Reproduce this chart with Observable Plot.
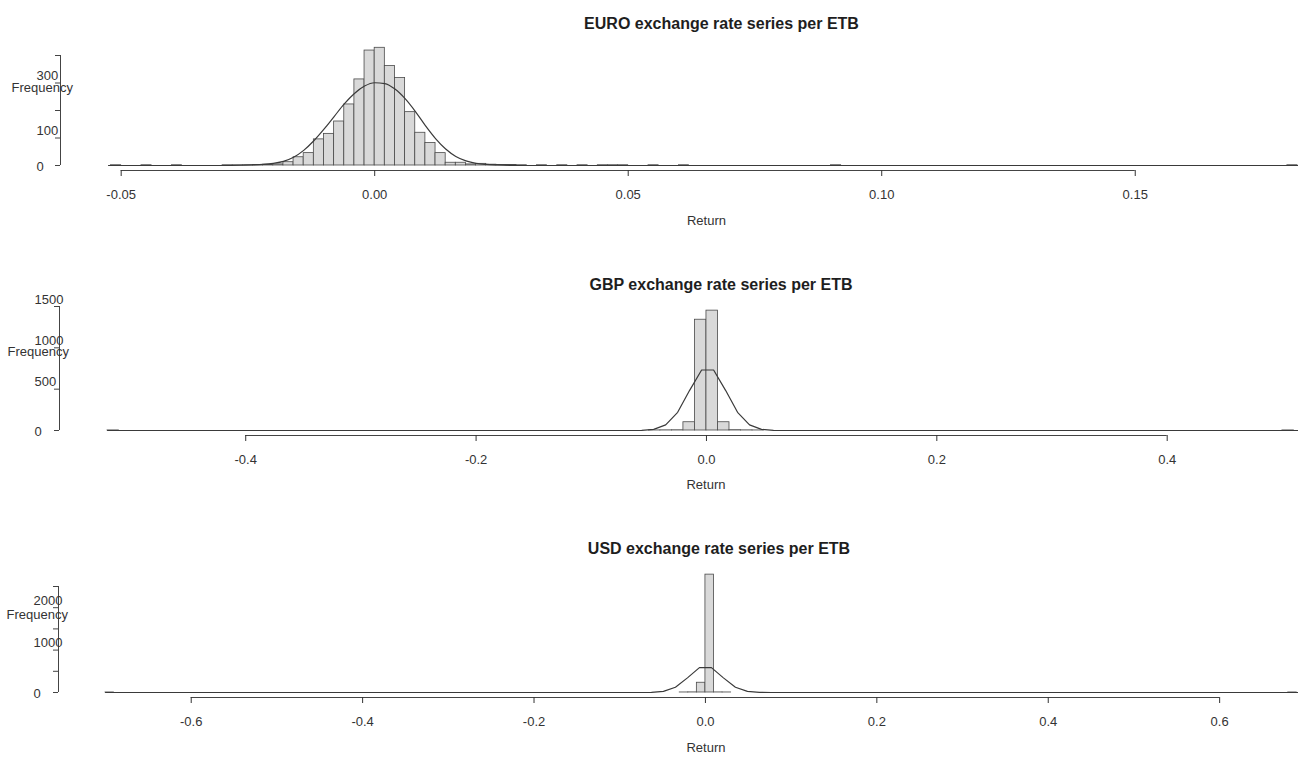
<!DOCTYPE html>
<html>
<head>
<meta charset="utf-8">
<script src="https://cdn.jsdelivr.net/npm/d3@7"></script>
<script src="https://cdn.jsdelivr.net/npm/@observablehq/plot@0.6"></script>
<style>
  html, body { margin: 0; padding: 0; background: #fff; overflow: hidden; }
  #chart > div { display: block; }
  #chart svg { display: block; }
</style>
</head>
<body>
<div id="chart"></div>
<script>
// ---------- EURO ----------
const euroTitle = "EURO exchange rate series per ETB";
const euroBinWidth = 0.002;
const euroBinLo = [-0.052, -0.046, -0.040, -0.030, -0.028, -0.026, -0.024, -0.022, -0.020, -0.018,
  -0.016, -0.014, -0.012, -0.010, -0.008, -0.006, -0.004, -0.002, 0.000, 0.002,
  0.004, 0.006, 0.008, 0.010, 0.012, 0.014, 0.016, 0.018, 0.020, 0.022,
  0.024, 0.026, 0.028, 0.032, 0.036, 0.040, 0.044, 0.046, 0.048, 0.054,
  0.060, 0.090, 0.180];
const euroCounts = [1, 1, 1, 1, 1, 1, 2, 3, 4, 12,
  30, 45, 95, 115, 160, 222, 313, 418, 428, 362,
  318, 194, 119, 82, 45, 10, 10, 4, 6, 3,
  2, 2, 1, 1, 1, 1, 1, 1, 1, 1,
  1, 1, 1];
const euroCurveX = [-0.0525, -0.030, -0.026, -0.024, -0.022, -0.020, -0.018, -0.016, -0.014, -0.012,
  -0.010, -0.008, -0.006, -0.004, -0.002, 0.000, 0.002, 0.004, 0.006, 0.008,
  0.010, 0.012, 0.014, 0.016, 0.018, 0.020, 0.022, 0.024, 0.028, 0.034, 0.1822];
const euroCurveY = [0, 0, 1, 2, 4, 8, 15, 30, 55, 90,
  132, 178, 224, 262, 289, 301, 298, 278, 243, 197,
  145, 98, 60, 33, 17, 8, 4, 2, 0, 0, 0];
const euroXTicks = [-0.05, 0.00, 0.05, 0.10, 0.15];
const euroYTicks = [0, 100, 200, 300, 400];
const euroYLabels = [0, 100, 300];

// ---------- GBP ----------
const gbpTitle = "GBP exchange rate series per ETB";
const gbpBinWidth = 0.01;
const gbpBinLo = [-0.52, -0.05, -0.04, -0.03, -0.02, -0.01, 0.00, 0.01, 0.02, 0.03, 0.04, 0.50];
const gbpCounts = [1, 1, 2, 3, 100, 1340, 1450, 100, 4, 2, 1, 1];
const gbpCurveX = [-0.52, -0.0666, -0.0562, -0.0458, -0.0354, -0.025, -0.0146, -0.0042,
  0.0062, 0.0166, 0.027, 0.0374, 0.0478, 0.0582, 0.0686, 0.514];
const gbpCurveY = [0, 0, 2, 14, 68, 220, 486, 732, 732, 486, 220, 68, 14, 2, 0, 0];
const gbpXTicks = [-0.4, -0.2, 0.0, 0.2, 0.4];
const gbpYTicks = [0, 500, 1000, 1500];
const gbpYLabels = [0, 500, 1000, 1500];

// ---------- USD ----------
const usdTitle = "USD exchange rate series per ETB";
const usdBinWidth = 0.01;
const usdBinLo = [-0.70, -0.03, -0.02, -0.01, 0.00, 0.01, 0.02, 0.68];
const usdCounts = [1, 1, 3, 230, 2780, 2, 1, 1];
const usdCurveX = [-0.70, -0.077, -0.063, -0.049, -0.035, -0.021, -0.007, 0.007,
  0.021, 0.035, 0.049, 0.063, 0.077, 0.692];
const usdCurveY = [0, 0, 3, 26, 123, 345, 587, 587, 345, 123, 26, 3, 0, 0];
const usdXTicks = [-0.6, -0.4, -0.2, 0.0, 0.2, 0.4, 0.6];
const usdYTicks = [0, 500, 1000, 1500, 2000, 2500];
const usdYLabels = [0, 1000, 2000];

const FONT = '"Liberation Sans", Arial, Helvetica, sans-serif';

function panel(c) {
  const bars = c.binLo.map((lo, i) => ({x1: lo, x2: lo + c.binWidth, y: c.counts[i]}));
  const pts = c.curveX.map((x, i) => ({x, y: c.curveY[i]}));
  const top = c.yTicks[c.yTicks.length - 1];
  return Plot.plot({
    width: 1298,
    height: c.height,
    marginTop: c.marginTop,
    marginBottom: c.marginBottom,
    marginLeft: c.marginLeft,
    marginRight: 0,
    x: {domain: c.xDomain},
    y: {domain: [0, top]},
    style: {fontFamily: FONT, fontSize: "13px", color: "#333", background: "#fff", overflow: "visible"},
    marks: [
      Plot.rect(bars, {x1: "x1", x2: "x2", y1: 0, y2: "y", fill: "#d9d9d9", stroke: "#4a4a4a", strokeWidth: 0.8}),
      Plot.line(pts, {x: "x", y: "y", stroke: "#3a3a3a", strokeWidth: 1.2, curve: c.curve}),
      Plot.ruleY([0], {x1: c.xTicks[0], x2: c.xTicks[c.xTicks.length - 1], dy: 5, stroke: "#444"}),
      Plot.axisX(c.xTicks, {tickSize: 6, tickPadding: 13, dy: 5, tickFormat: d => d.toFixed(c.xDigits), label: null, color: "#333", fontSize: 13}),
      Plot.ruleX([c.xDomain[0]], {y1: 0, y2: top, dx: c.yAxisDx, stroke: "#444"}),
      Plot.axisY(c.yTicks, {tickSize: 5, dx: c.yAxisDx, tickFormat: () => "", label: null, color: "#444"}),
      Plot.axisY(c.yLabels.filter(v => v !== 0), {tickSize: 0, tickPadding: 0, textAnchor: "start", dx: c.yLabelDx, dy: -7, tickFormat: d => String(d), label: null, color: "#333", fontSize: 13}),
      Plot.axisY([0], {tickSize: 0, tickPadding: 0, textAnchor: "start", dx: c.yLabelDx, dy: 1, tickFormat: d => String(d), label: null, color: "#333", fontSize: 13}),
      Plot.text([c.title], {text: d => d, frameAnchor: "top", dx: c.titleDx, dy: c.titleDy, fontWeight: "bold", fontSize: 16, fill: "#1e1e1e"}),
      Plot.text(["Frequency"], {text: d => d, frameAnchor: "top-left", textAnchor: "start", dx: c.freqDx, dy: c.freqDy, fontSize: 13, fill: "#333"}),
      Plot.text(["Return"], {text: d => d, frameAnchor: "bottom", dx: c.retDx, dy: c.retDy, fontSize: 13, fill: "#333"})
    ]
  });
}

const chart = document.getElementById("chart");
const configs = [
  {title: euroTitle, binLo: euroBinLo, counts: euroCounts, binWidth: euroBinWidth,
   curveX: euroCurveX, curveY: euroCurveY, curve: "monotone-x",
   xDomain: [-0.0525, 0.1822], xTicks: euroXTicks, xDigits: 2,
   yTicks: euroYTicks, yLabels: euroYLabels,
   height: 260, marginTop: 55, marginBottom: 95, marginLeft: 108,
   yAxisDx: -48, yLabelDx: -72, titleDx: 18, titleDy: -38,
   freqDx: -97, freqDy: 27, retDx: 3, retDy: 59},
  {title: gbpTitle, binLo: gbpBinLo, counts: gbpCounts, binWidth: gbpBinWidth,
   curveX: gbpCurveX, curveY: gbpCurveY, curve: "linear",
   xDomain: [-0.52, 0.514], xTicks: gbpXTicks, xDigits: 1,
   yTicks: gbpYTicks, yLabels: gbpYLabels,
   height: 260, marginTop: 46, marginBottom: 90, marginLeft: 107,
   yAxisDx: -48, yLabelDx: -73, titleDx: 18, titleDy: -28,
   freqDx: -100, freqDy: 40, retDx: 3, retDy: 58},
  {title: usdTitle, binLo: usdBinLo, counts: usdCounts, binWidth: usdBinWidth,
   curveX: usdCurveX, curveY: usdCurveY, curve: "linear",
   xDomain: [-0.70, 0.692], xTicks: usdXTicks, xDigits: 1,
   yTicks: usdYTicks, yLabels: usdYLabels,
   height: 241, marginTop: 66, marginBottom: 69, marginLeft: 105,
   yAxisDx: -47, yLabelDx: -72, titleDx: 17, titleDy: -44,
   freqDx: -99, freqDy: 23, retDx: 4, retDy: 59}
];
for (const c of configs) {
  const div = document.createElement("div");
  div.appendChild(panel(c));
  chart.appendChild(div);
}
</script>
</body>
</html>
